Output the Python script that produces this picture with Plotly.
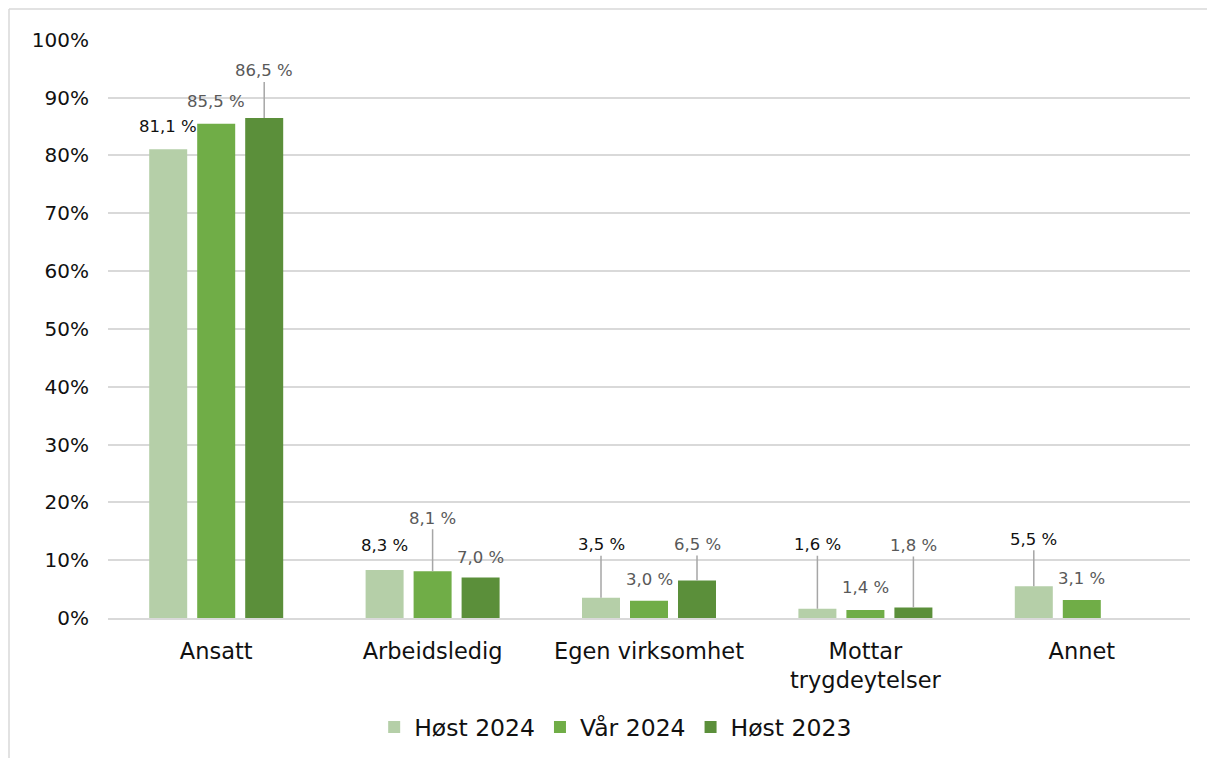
import plotly.graph_objects as go

categories = ["Ansatt", "Arbeidsledig", "Egen virksomhet", "Mottar<br>trygdeytelser", "Annet"]
series_names = ["Høst 2024", "Vår 2024", "Høst 2023"]
host_2024 = [81.1, 8.3, 3.5, 1.6, 5.5]
var_2024 = [85.5, 8.1, 3.0, 1.4, 3.1]
host_2023 = [86.5, 7.0, 6.5, 1.8, None]
y_ticks = [0, 10, 20, 30, 40, 50, 60, 70, 80, 90, 100]
y_tick_labels = ["0%", "10%", "20%", "30%", "40%", "50%", "60%", "70%", "80%", "90%", "100%"]

# styling (label offsets in px above bar top, and whether a leader line is drawn)
colors = ["#b5cfa8", "#70ad47", "#5b8f3a"]
label_colors = ["#111111", "#595959", "#595959"]
label_offsets = [
    [23, 25, 53, 64, 47],
    [22, 53, 21, 22, 22],
    [47, 20, 36, 62, 0],
]
leader = [
    [False, False, True, True, True],
    [False, True, False, False, False],
    [True, False, True, True, False],
]

W, H = 1207, 750
L, R, T, B = 100, 25, 31, 140
plot_w = W - L - R
plot_h = H - T - B
cat_w = plot_w / len(categories)
slot_px = 48
bar_px = 38
bargap = 1 - 3 * slot_px / cat_w
bargroupgap = 1 - bar_px / slot_px

fig = go.Figure()
all_series = [host_2024, var_2024, host_2023]
for name, vals, col in zip(series_names, all_series, colors):
    fig.add_trace(go.Bar(
        x=categories, y=vals, name=name, marker=dict(color=col, line=dict(width=0)),
        hoverinfo="skip",
    ))

annotations = []
for j, vals in enumerate(all_series):
    for i, v in enumerate(vals):
        if v is None:
            continue
        txt = f"{v:.1f}".replace(".", ",") + " %"
        annotations.append(dict(
            x=categories[i], y=v, xref="x", yref="y",
            xshift=(j - 1) * slot_px,
            text=txt, showarrow=True, arrowhead=0, ax=0, ay=-label_offsets[j][i],
            axref="pixel", ayref="pixel", standoff=0, startstandoff=0,
            arrowwidth=1.5,
            arrowcolor="#a6a6a6" if leader[j][i] else "rgba(0,0,0,0)",
            font=dict(family="DejaVu Sans", size=16.5, color=label_colors[j]),
        ))

fig.update_layout(
    width=W, height=H,
    margin=dict(l=L, r=R, t=T, b=B, autoexpand=False),
    paper_bgcolor="white", plot_bgcolor="white",
    barmode="group", bargap=bargap, bargroupgap=bargroupgap,
    font=dict(family="DejaVu Sans", color="#111111"),
    showlegend=True,
    legend=dict(
        orientation="h", x=0.246, xanchor="left",
        yref="container", y=0.041, yanchor="middle",
        font=dict(family="DejaVu Sans", size=23.5, color="#111111"),
        traceorder="normal", itemwidth=30, bgcolor="rgba(0,0,0,0)",
    ),
    annotations=annotations,
    shapes=[
        dict(type="line", xref="paper", yref="paper",
             x0=(1 - L) / plot_w, x1=(W + 10 - L) / plot_w,
             y0=1 + (T - 1) / plot_h, y1=1 + (T - 1) / plot_h,
             line=dict(color="#d9d9d9", width=1.5)),
        dict(type="line", xref="paper", yref="paper",
             x0=(1 - L) / plot_w, x1=(1 - L) / plot_w,
             y0=1 + (T - 1) / plot_h, y1=(T + plot_h - H - 10) / plot_h,
             line=dict(color="#d9d9d9", width=1.5)),
    ],
)
fig.update_xaxes(
    type="category", showgrid=False, showline=True, linecolor="#d9d9d9", linewidth=1.5,
    ticks="outside", ticklen=12, tickcolor="rgba(0,0,0,0)",
    tickfont=dict(family="DejaVu Sans", size=22.5, color="#111111"),
)
fig.update_yaxes(
    range=[0, 100.15], tickvals=y_ticks, ticktext=y_tick_labels,
    showgrid=True, gridcolor="#d9d9d9", gridwidth=1.5, zeroline=False,
    showline=False, ticks="", ticklabelstandoff=18,
    tickfont=dict(family="DejaVu Sans", size=20, color="#111111"),
)

fig.write_html("out.html")
